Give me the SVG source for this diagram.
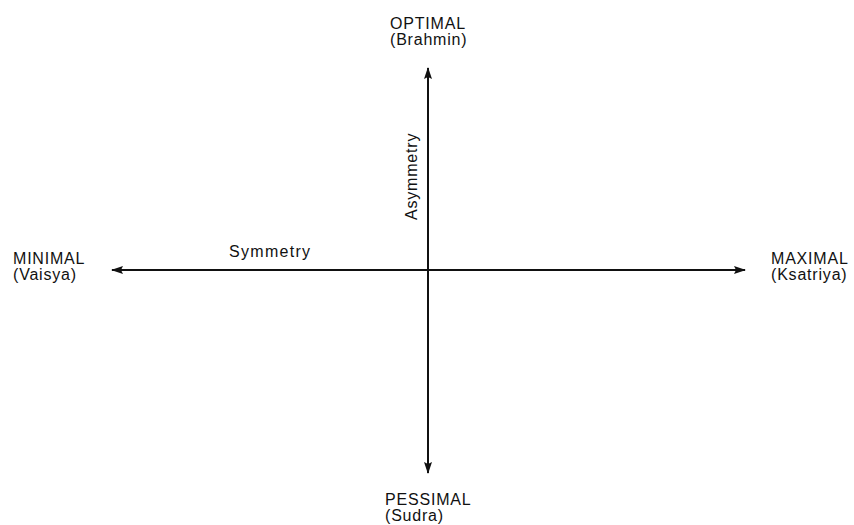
<svg xmlns="http://www.w3.org/2000/svg" width="854" height="525" viewBox="0 0 854 525">
<style>
text{font-family:"Liberation Sans",Arial,sans-serif;font-size:16px;fill:#111;letter-spacing:0.8px}
.ax{stroke:#111;stroke-width:2;fill:none}
</style>
<defs>
<marker id="ah" viewBox="0 0 12 8" refX="11" refY="4" markerWidth="12" markerHeight="8" markerUnits="userSpaceOnUse" orient="auto">
<path d="M0,0 L12,4 L0,8 L2,4 Z" fill="#111"/>
</marker>
</defs>
<rect width="854" height="525" fill="#fff"/>
<g id="connectors">
<line class="ax" x1="428" y1="270" x2="428" y2="68" marker-end="url(#ah)"/>
<line class="ax" x1="428" y1="270" x2="428" y2="473" marker-end="url(#ah)"/>
<line class="ax" x1="428" y1="270" x2="112" y2="270" marker-end="url(#ah)"/>
<line class="ax" x1="428" y1="270" x2="745" y2="270" marker-end="url(#ah)"/>
</g>
<g id="optimal"><text x="390" y="29">OPTIMAL</text><text x="390" y="45">(Brahmin)</text></g>
<g id="minimal"><text x="13" y="264">MINIMAL</text><text x="13" y="280">(Vaisya)</text></g>
<g id="maximal"><text x="771" y="264">MAXIMAL</text><text x="771" y="280">(Ksatriya)</text></g>
<g id="pessimal"><text x="385" y="505">PESSIMAL</text><text x="385" y="521">(Sudra)</text></g>
<g id="symmetry"><text x="229" y="257" style="letter-spacing:1.3px">Symmetry</text></g>
<g id="asymmetry"><text transform="translate(417,220) rotate(-90)">Asymmetry</text></g>
</svg>
